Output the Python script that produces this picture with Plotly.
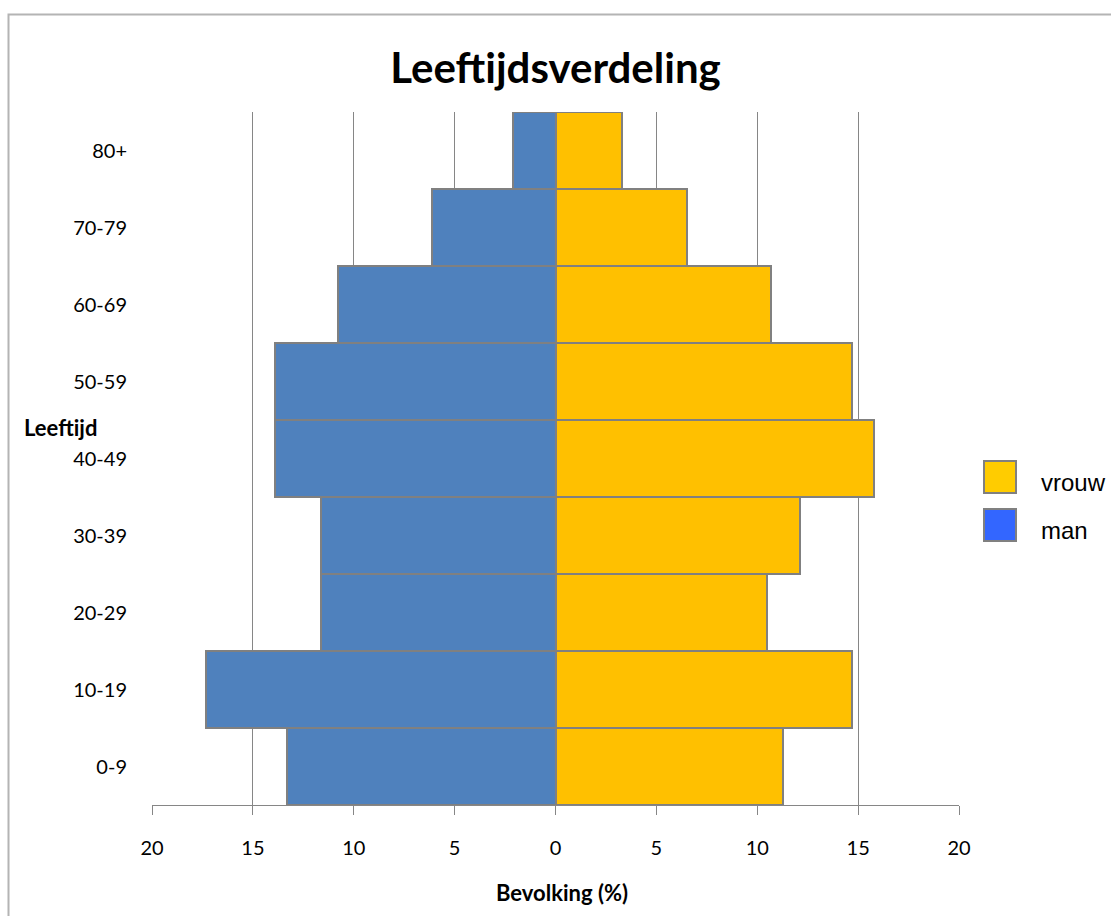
import plotly.graph_objects as go

# Age groups (bottom to top) and population share per sex, in percent
age_groups = ["0-9", "10-19", "20-29", "30-39", "40-49", "50-59", "60-69", "70-79", "80+"]
man = [13.3, 17.3, 11.6, 11.6, 13.9, 13.9, 10.8, 6.1, 2.1]
vrouw = [11.3, 14.7, 10.5, 12.1, 15.8, 14.7, 10.7, 6.5, 3.3]

x_ticks = [-20, -15, -10, -5, 0, 5, 10, 15, 20]
x_tick_text = [str(abs(v)) for v in x_ticks]

W, H = 1111, 916
L, R, T, B = 152, 152, 112, 111
plot_w = W - L - R
plot_h = H - T - B


def px(x):
    return (x - L) / plot_w


def py(y):
    return (H - B - y) / plot_h


BLUE = "#4F81BD"
GOLD = "#FFC000"
EDGE = "#808080"
FONT = "Lato"

fig = go.Figure()
fig.add_trace(go.Bar(
    y=age_groups, x=[-v for v in man], orientation="h", name="man",
    marker=dict(color=BLUE, line=dict(color=EDGE, width=2)),
    width=1, showlegend=False,
))
fig.add_trace(go.Bar(
    y=age_groups, x=vrouw, orientation="h", name="vrouw",
    marker=dict(color=GOLD, line=dict(color=EDGE, width=2)),
    width=1, showlegend=False,
))

shapes = [
    # outer frame of the chart object
    dict(type="rect", xref="paper", yref="paper",
         x0=px(8.5), x1=px(1120), y0=py(925), y1=py(14.5),
         line=dict(color="#B4B4B4", width=2), fillcolor="rgba(0,0,0,0)", layer="below"),
    # legend swatches
    dict(type="rect", xref="paper", yref="paper",
         x0=px(984), x1=px(1016), y0=py(493), y1=py(461),
         line=dict(color=EDGE, width=2), fillcolor="#FFCC00"),
    dict(type="rect", xref="paper", yref="paper",
         x0=px(984), x1=px(1016), y0=py(541), y1=py(509),
         line=dict(color=EDGE, width=2), fillcolor="#3366FF"),
]

annotations = [
    dict(text="<b>Leeftijd</b>", xref="paper", yref="paper", x=px(60), y=py(428),
         xanchor="center", yanchor="middle", showarrow=False,
         font=dict(family=FONT, size=22, color="#000000")),
    dict(text="<b>Bevolking (%)</b>", xref="paper", yref="paper", x=px(562), y=py(892),
         xanchor="center", yanchor="middle", showarrow=False,
         font=dict(family=FONT, size=22, color="#000000")),
    dict(text="vrouw", xref="paper", yref="paper", x=px(1039), y=py(482),
         xanchor="left", yanchor="middle", showarrow=False,
         font=dict(family="Liberation Sans", size=24, color="#000000")),
    dict(text="man", xref="paper", yref="paper", x=px(1039), y=py(530),
         xanchor="left", yanchor="middle", showarrow=False,
         font=dict(family="Liberation Sans", size=24, color="#000000")),
]

fig.update_layout(
    width=W, height=H, autosize=False,
    margin=dict(l=L, r=R, t=T, b=B),
    paper_bgcolor="white", plot_bgcolor="white",
    barmode="relative", bargap=0,
    title=dict(text="<b>Leeftijdsverdeling</b>", x=0.5, xref="paper", xanchor="center",
               y=1 - 68 / H, yanchor="middle", yref="container",
               font=dict(family=FONT, size=42, color="#000000")),
    xaxis=dict(
        range=[-20, 20], tickvals=x_ticks, ticktext=x_tick_text,
        showgrid=True, gridcolor="#868686", gridwidth=1, zeroline=False,
        showline=True, linecolor="#868686", linewidth=1,
        ticks="outside", ticklen=9, tickcolor="#868686", tickwidth=1,
        ticklabelstandoff=16,
        tickfont=dict(family=FONT, size=20, color="#000000"),
    ),
    yaxis=dict(
        categoryorder="array", categoryarray=age_groups,
        range=[-0.5, len(age_groups) - 0.5],
        showgrid=False, zeroline=False, showline=False, ticks="",
        ticklabelstandoff=24,
        tickfont=dict(family=FONT, size=20, color="#000000"),
    ),
    shapes=shapes, annotations=annotations,
    showlegend=False,
)

fig.write_html("out.html")
